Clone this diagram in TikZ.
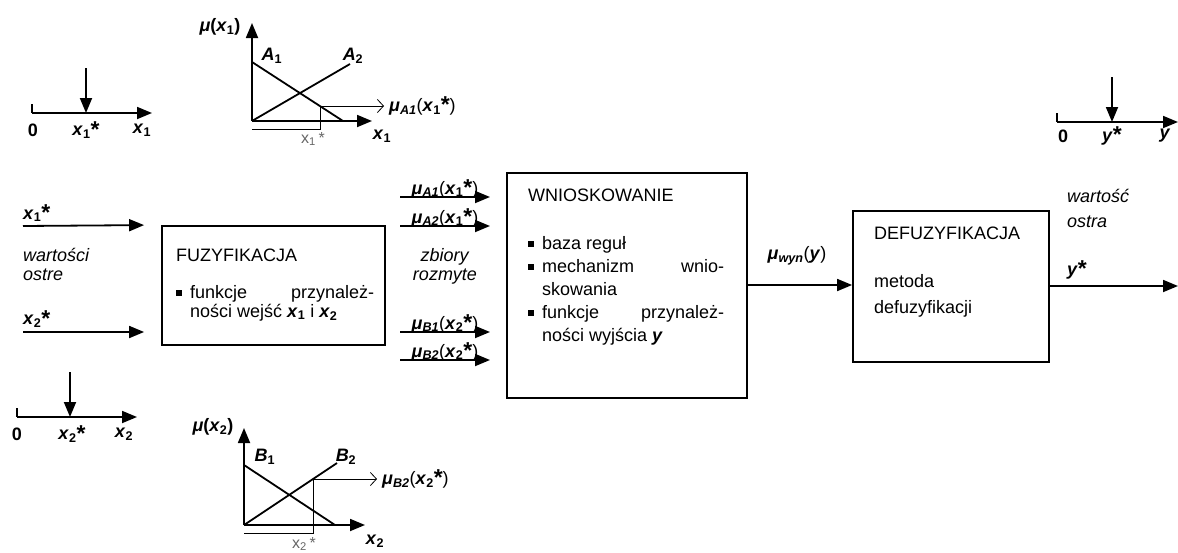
\documentclass[tikz,border=0pt]{standalone}
\usepackage{fontspec}
\setmainfont{Liberation Sans}
\usetikzlibrary{arrows.meta,positioning}

% symbols used in the labels
\newcommand{\st}{\textbf{\raisebox{-1.5pt}{\fontsize{23}{23}\selectfont *}}}
\newcommand{\xv}[1]{\textbf{\textit{x}\textsubscript{#1}}}
\newcommand{\muv}[1]{\textbf{\textit{μ}\textsubscript{\textit{#1}}}}
\newcommand{\blt}{\makebox[14pt][l]{\raisebox{2.5pt}{\rule{5.5pt}{5.5pt}}}}
\newcommand{\ind}{\hspace*{14pt}}

\tikzset{
  blk/.style={draw,line width=1.8pt,inner sep=0pt},
  flow/.style={line width=1.8pt,-{Triangle[length=15pt,width=12pt]}},
  axis/.style={line width=1.8pt,-{Triangle[length=15pt,width=12pt]}},
  fn/.style={line width=1.8pt},
  aux/.style={line width=0.8pt},
  aux arrow/.style={line width=0.8pt,-{Straight Barb[length=6pt,width=13pt]}},
  lbl/.style={inner sep=0pt},
}

\begin{document}
\begin{tikzpicture}[x=1pt,y=-1pt,font=\fontsize{18}{23}\selectfont]
\useasboundingbox (0,0) rectangle (1178,552);

% blocks
\node[blk,minimum width=223pt,minimum height=119pt] (fuz) at (273.5,285.5) {};
\node[blk,minimum width=240pt,minimum height=225pt] (wni) at (627,285.5) {};
\node[blk,minimum width=196pt,minimum height=151pt] (def) at (951,286.5) {};

% block texts
\node[lbl,anchor=west] (fuzT) at (176,255) {FUZYFIKACJA};
\node[lbl,anchor=north west,align=left,font=\fontsize{18}{19}\selectfont] (fuzL) at (176,285)
  {\blt\makebox[184pt][s]{funkcje przynależ-}\\
   \ind ności wejść \xv{1} i \xv{2}};
\node[lbl,anchor=west] (wniT) at (528,195) {WNIOSKOWANIE};
\node[lbl,anchor=north west,align=left] (wniL) at (528,236)
  {\blt baza reguł\\
   \blt\makebox[182pt][s]{mechanizm wnio-}\\
   \ind skowania\\
   \blt\makebox[182pt][s]{funkcje przynależ-}\\
   \ind ności wyjścia \textbf{\textit{y}}};
\node[lbl,anchor=west] (defT) at (874,233) {DEFUZYFIKACJA};
\node[lbl,anchor=north west,align=left,font=\fontsize{18}{26}\selectfont] (defL) at (874,274)
  {metoda\\ defuzyfikacji};

% inputs
\coordinate (in1) at (23,226);
\coordinate (in2) at (23,332);
\draw[flow] (in1) -- ([xshift=-17pt]fuz.north west);
\draw[flow] (in2) -- ([xshift=-17pt]fuz.west |- in2);
\node[lbl,anchor=south west] at ([yshift=4pt]in1) {\xv{1}\st};
\node[lbl,anchor=south west] at ([yshift=4pt]in2) {\xv{2}\st};
\node[lbl,anchor=west,align=left,font=\fontsize{18}{19}\selectfont] at (23,264) {\textit{wartości}\\ \textit{ostre}};

% fuzzy sets between the blocks
\foreach \yy/\tx in {197/\muv{A1}(\xv{1}\st),226/\muv{A2}(\xv{1}\st),332/\muv{B1}(\xv{2}\st),360/\muv{B2}(\xv{2}\st)}{
  \draw[flow] (400,\yy) -- (490,\yy);
  \node[lbl,anchor=south] at (445,\yy+1) {\tx};
}
\node[lbl,align=center,font=\fontsize{18}{19}\selectfont] at (445,266) {\textit{zbiory}\\ \textit{rozmyte}};

% output of the inference
\draw[flow] (wni.east |- 0,285) -- (def.west |- 0,285);
\node[lbl] at (797,256) {\muv{wyn}(\textbf{\textit{y}})};

% crisp output
\coordinate (out) at (1178,286);
\draw[flow] (def.east |- out) -- (out);
\node[lbl,anchor=south west] at (1067,279) {\textbf{\textit{y}}\st};
\node[lbl,anchor=west,align=left,font=\fontsize{18}{25}\selectfont] at (1067,208) {\textit{wartość}\\ \textit{ostra}};

% crisp value axes
\draw[axis] (32,113) -- (152,113);
\draw[fn] (32,104) -- (32,113);
\draw[axis] (86,68) -- (86,113);
\node[lbl] at (33,130) {\textbf{0}};
\node[lbl] at (86,130) {\xv{1}\st};
\node[lbl] at (142,130) {\xv{1}};

\draw[axis] (17,417) -- (137,417);
\draw[fn] (17,408) -- (17,417);
\draw[axis] (70,372) -- (70,417);
\node[lbl] at (17,434) {\textbf{0}};
\node[lbl] at (72,434) {\xv{2}\st};
\node[lbl] at (124,434) {\xv{2}};

\draw[axis] (1057,122) -- (1178,122);
\draw[fn] (1057,113) -- (1057,122);
\draw[axis] (1112,77) -- (1112,122);
\node[lbl] at (1063,136) {\textbf{0}};
\node[lbl] at (1112,136) {\textbf{\textit{y}}\st};
\node[lbl] at (1165,136) {\textbf{\textit{y}}};

% membership functions of x1
\draw[axis] (252,121) -- (252,23);
\draw[axis] (252,121) -- (372,121);
\draw[fn] (252,62) -- (343,121);
\draw[fn] (252,121) -- (350,64);
\draw[aux] (252,129) -- (320,129) -- (320,106);
\node[lbl,anchor=west] (muA) at (389,106) {\muv{A1}(\xv{1}\st)};
\draw[aux arrow] (320,106) -- ([xshift=-5pt]muA.west);
\node[lbl] at (220,27) {\textbf{\textit{μ}(\textit{x}\textsubscript{1})}};
\node[lbl] at (272,56) {\textbf{\textit{A}\textsubscript{1}}};
\node[lbl] at (353,56) {\textbf{\textit{A}\textsubscript{2}}};
\node[lbl] at (382,136) {\xv{1}};
\node[lbl,text=gray!80!black] at (313,139) {\fontsize{16}{18}\selectfont x\textsubscript{1}\,*};

% membership functions of x2
\draw[axis] (244,525) -- (244,428);
\draw[axis] (244,525) -- (365,525);
\draw[fn] (244,465) -- (335,525);
\draw[fn] (244,525) -- (337,463);
\draw[aux] (244,533) -- (313,533) -- (313,479);
\node[lbl,anchor=west] (muB) at (382,479) {\muv{B2}(\xv{2}\st)};
\draw[aux arrow] (313,479) -- ([xshift=-5pt]muB.west);
\node[lbl] at (213,427) {\textbf{\textit{μ}(\textit{x}\textsubscript{2})}};
\node[lbl] at (265,457) {\textbf{\textit{B}\textsubscript{1}}};
\node[lbl] at (346,457) {\textbf{\textit{B}\textsubscript{2}}};
\node[lbl] at (375,541) {\xv{2}};
\node[lbl,text=gray!80!black] at (304,544) {\fontsize{16}{18}\selectfont x\textsubscript{2}\,*};
\end{tikzpicture}
\end{document}
